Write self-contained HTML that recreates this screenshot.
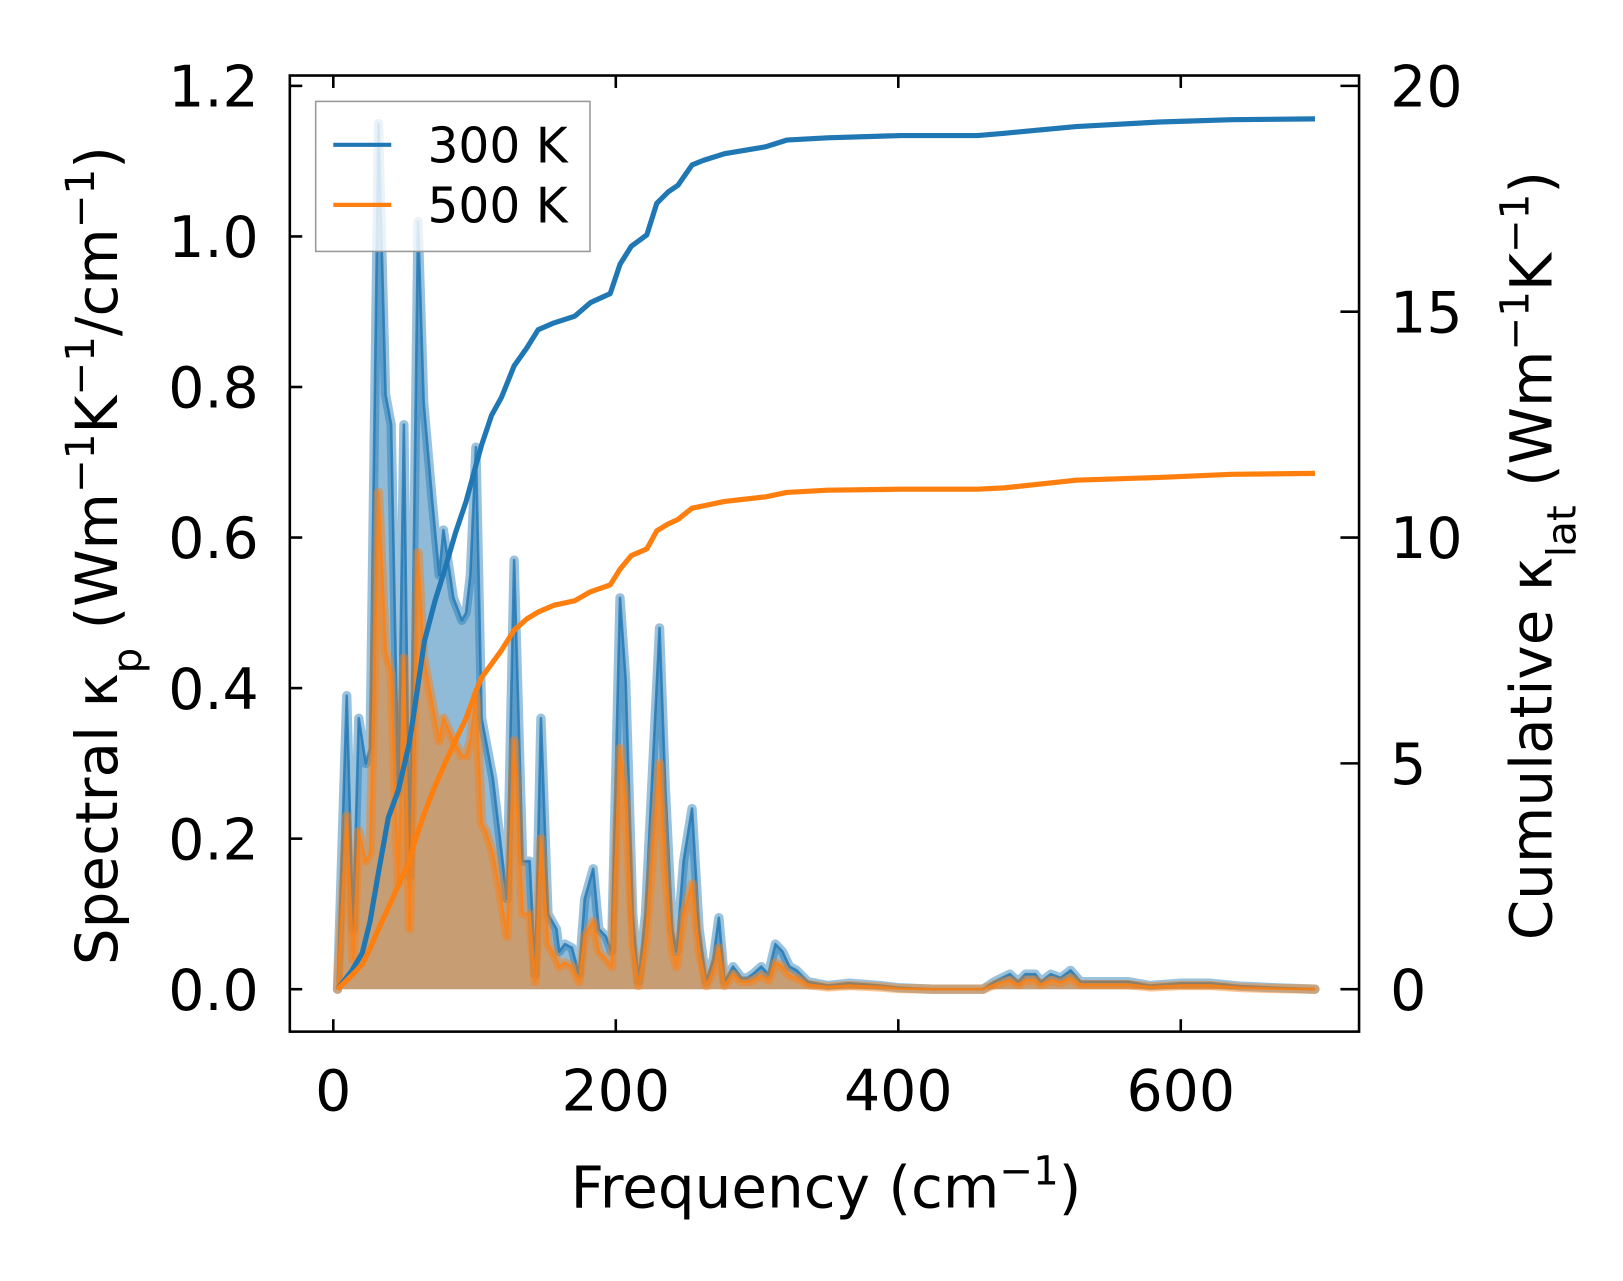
<!DOCTYPE html>
<html><head><meta charset="utf-8"><style>
html,body{margin:0;padding:0;background:#fff;}
svg{display:block;font-family:"DejaVu Sans","Liberation Sans",sans-serif;}
</style></head><body>
<svg id="chart" width="1623" height="1281" viewBox="0 0 1568 1238" preserveAspectRatio="none">
<g id="plot"></g>
<g id="axes"></g>
<g>
<rect x="305" y="98" width="265" height="145" fill="#fff" fill-opacity="0.8" stroke="#999" stroke-width="1.5"/>
<line x1="322" y1="140" x2="378" y2="140" stroke="#1f77b4" stroke-width="4"/>
<text x="413" y="157" font-size="47">300 K</text>
<line x1="322" y1="198" x2="378" y2="198" stroke="#ff7f0e" stroke-width="4"/>
<text x="413" y="215" font-size="47">500 K</text>
</g>
<text x="798" y="1167" font-size="56" text-anchor="middle">Frequency (cm<tspan baseline-shift="super" font-size="39">−1</tspan>)</text>
<text transform="translate(113,537) rotate(-90)" font-size="56" text-anchor="middle">Spectral κ<tspan baseline-shift="sub" font-size="39">p</tspan> (Wm<tspan baseline-shift="super" font-size="39">−1</tspan>K<tspan baseline-shift="super" font-size="39">−1</tspan>/cm<tspan baseline-shift="super" font-size="39">−1</tspan>)</text>
<text transform="translate(1499,537) rotate(-90)" font-size="56" text-anchor="middle">Cumulative κ<tspan baseline-shift="sub" font-size="39">lat</tspan> (Wm<tspan baseline-shift="super" font-size="39">−1</tspan>K<tspan baseline-shift="super" font-size="39">−1</tspan>)</text>
</svg>
<script>
const freq = [3,9.5,14,18,23,26,32,37,41,46,50,54,60,64,70,75,78,85,91,94,97,101,105,108,113,118,123,128,134,139,143,147,152,158,160,164,169,174,178,184,188,193,197,203,207,212,216,221,231,235,240,243,248,254,259,264,269,273,277,283,289,293,297,303,308,313,318,323,328,336,350,365,387,400,424,460,468,479,485,490,497,501,508,515,522,529,548,563,578,600,621,643,665,695];
const spec300 = [0,0.39,0.08,0.36,0.30,0.32,1.15,0.79,0.75,0.26,0.75,0.15,1.02,0.78,0.65,0.55,0.61,0.52,0.49,0.50,0.55,0.72,0.36,0.33,0.28,0.20,0.12,0.57,0.17,0.17,0.02,0.36,0.10,0.08,0.05,0.06,0.055,0.02,0.12,0.16,0.08,0.07,0.05,0.52,0.41,0.10,0.01,0.10,0.48,0.27,0.08,0.05,0.17,0.24,0.08,0.01,0.04,0.095,0.01,0.03,0.015,0.015,0.02,0.03,0.02,0.06,0.05,0.03,0.025,0.01,0.005,0.008,0.005,0.002,0,0,0.01,0.02,0.01,0.02,0.02,0.01,0.02,0.015,0.025,0.01,0.01,0.01,0.005,0.008,0.008,0.004,0.002,0];
const spec500 = [0,0.23,0.04,0.21,0.17,0.18,0.66,0.45,0.42,0.14,0.44,0.08,0.58,0.44,0.38,0.33,0.36,0.33,0.31,0.31,0.33,0.39,0.22,0.21,0.18,0.13,0.07,0.33,0.10,0.10,0.01,0.20,0.06,0.04,0.03,0.035,0.03,0.01,0.07,0.09,0.05,0.04,0.03,0.32,0.25,0.06,0.005,0.06,0.30,0.16,0.05,0.03,0.10,0.14,0.05,0.005,0.025,0.055,0.005,0.02,0.01,0.01,0.012,0.018,0.012,0.035,0.03,0.018,0.015,0.006,0.003,0.005,0.003,0.001,0,0,0.006,0.012,0.006,0.012,0.012,0.006,0.012,0.009,0.015,0.006,0.006,0.006,0.003,0.005,0.005,0.002,0.001,0];
const cumFreq = [3,13,20.5,26,31.5,39,46,53.5,57,64.5,72,79,86.5,94,101,105,112,119,128,137,145,156,171,182,196,203,211,222,229,237,244,254,262,277,306,321,350,402,456,475,526,585,636,695];
const cum300 = [0,0.4,0.8,1.5,2.5,3.8,4.4,5.4,6.1,7.7,8.6,9.3,10.1,10.8,11.6,12.05,12.7,13.1,13.8,14.2,14.6,14.75,14.9,15.2,15.4,16.05,16.45,16.7,17.4,17.65,17.8,18.25,18.35,18.5,18.65,18.8,18.85,18.9,18.9,18.95,19.1,19.2,19.25,19.27];
const cum500 = [0,0.3,0.55,0.9,1.3,1.8,2.3,2.8,3.2,3.9,4.5,5.0,5.5,6.0,6.6,6.9,7.2,7.5,7.95,8.2,8.35,8.5,8.6,8.8,8.95,9.3,9.6,9.75,10.15,10.3,10.4,10.65,10.7,10.8,10.9,11.0,11.05,11.07,11.07,11.1,11.27,11.33,11.4,11.42];
const xTicks = [0,200,400,600];
const yTicks = [0,0.2,0.4,0.6,0.8,1.0,1.2];
const yTickLabels = ["0.0","0.2","0.4","0.6","0.8","1.0","1.2"];
const y2Ticks = [0,5,10,15,20];

const NS="http://www.w3.org/2000/svg";
const X0=280,X1=1313,Y0=73,Y1=997;
const xs=f=>322+f*1.3646;
const ys=v=>956-v*727.5;
const y2s=v=>956-v*43.65;
function mk(tag,attrs,parent){const e=document.createElementNS(NS,tag);for(const k in attrs)e.setAttribute(k,attrs[k]);parent.appendChild(e);return e;}
const plot=document.getElementById('plot'), axes=document.getElementById('axes');
function pts(fx,vals,sc){return fx.map((f,i)=>xs(f).toFixed(1)+','+sc(vals[i]).toFixed(1));}
function drawSpec(vals,color,name){
  const p=pts(freq,vals,ys);
  const area=mk('polygon',{points:xs(freq[0])+','+ys(0)+' '+p.join(' ')+' '+xs(freq[freq.length-1])+','+ys(0),fill:color,'fill-opacity':0.5},plot);
  
  
  const halo=mk('polyline',{points:p.join(' '),fill:'none',stroke:color,'stroke-opacity':0.45,'stroke-width':9,'stroke-linejoin':'round','stroke-linecap':'round'},plot);
  
  
  const ln=mk('polyline',{points:p.join(' '),fill:'none',stroke:color,'stroke-opacity':0.8,'stroke-width':2.5,'stroke-linejoin':'round'},plot);
  
  
}
drawSpec(spec300,'#1f77b4','spectral-300k');
drawSpec(spec500,'#ff7f0e','spectral-500k');
function drawCum(vals,color,name){
  const ln=mk('polyline',{points:pts(cumFreq,vals,y2s).join(' '),fill:'none',stroke:color,'stroke-width':5,'stroke-linejoin':'round'},plot);
  
  
}
drawCum(cum300,'#1f77b4','cumulative-300k');
drawCum(cum500,'#ff7f0e','cumulative-500k');

const frame=mk('rect',{x:X0,y:Y0,width:X1-X0,height:Y1-Y0,fill:'none',stroke:'#000','stroke-width':2.5},axes);


xTicks.forEach(t=>{
  const x=xs(t);
  const a=mk('line',{x1:x,y1:Y1,x2:x,y2:Y1-12,stroke:'#000','stroke-width':2.5},axes);
  
  
  const b=mk('line',{x1:x,y1:Y0,x2:x,y2:Y0+12,stroke:'#000','stroke-width':2.5},axes);
  
  
  const l=mk('text',{x:x,y:1073,'font-size':55,'text-anchor':'middle'},axes);
  l.textContent=String(t);
  
  
});
yTicks.forEach((t,i)=>{
  const y=ys(t);
  const a=mk('line',{x1:X0,y1:y,x2:X0+12,y2:y,stroke:'#000','stroke-width':2.5},axes);
  
  
  const l=mk('text',{x:250,y:y+20,'font-size':55,'text-anchor':'end'},axes);
  l.textContent=yTickLabels[i];
  
  
});
y2Ticks.forEach(t=>{
  const y=y2s(t);
  const a=mk('line',{x1:X1,y1:y,x2:X1-18,y2:y,stroke:'#000','stroke-width':2.5},axes);
  
  
  const l=mk('text',{x:1343,y:y+20,'font-size':55,'text-anchor':'start'},axes);
  l.textContent=String(t);
  
  
});
</script>
</body></html>
